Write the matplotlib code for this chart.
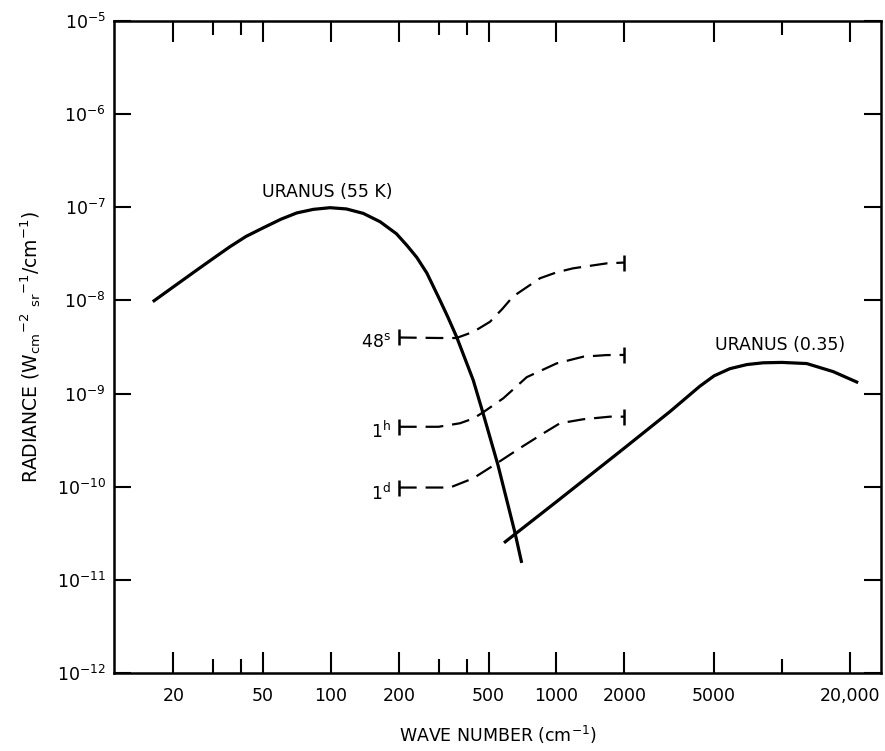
import matplotlib
matplotlib.use('Agg')
import matplotlib.pyplot as plt
from matplotlib.ticker import FixedLocator, FixedFormatter, NullFormatter, NullLocator

# ---------------- data ----------------
thermal_nu = [16.2, 20, 25.4, 30, 35.6, 42, 49.9, 60, 70.5, 83.5, 99, 117, 139,
              165, 195, 217, 240, 266, 304, 330, 360, 427, 472, 550, 655, 701]
thermal_rad = [9.7e-9, 1.40e-8, 2.12e-8, 2.82e-8, 3.77e-8, 4.87e-8, 6.0e-8,
               7.45e-8, 8.7e-8, 9.5e-8, 9.9e-8, 9.6e-8, 8.6e-8, 7.0e-8, 5.2e-8,
               3.9e-8, 2.9e-8, 1.97e-8, 1.01e-8, 6.6e-9, 4.1e-9, 1.40e-9,
               6.2e-10, 1.71e-10, 3.18e-11, 1.52e-11]

reflect_nu = [585, 1000, 2000, 3185, 4325, 5000, 5875, 7000, 8260, 10000, 12880,
              16880, 21780]
reflect_rad = [2.5e-11, 6.9e-11, 2.6e-10, 6.4e-10, 1.2e-9, 1.55e-9, 1.85e-9,
               2.05e-9, 2.14e-9, 2.16e-9, 2.1e-9, 1.72e-9, 1.31e-9]

s48_nu = [200, 300, 360, 428, 507, 575, 641, 845, 1000, 1183, 1670, 2000]
s48_rad = [4.0e-9, 3.95e-9, 3.95e-9, 4.6e-9, 5.9e-9, 8.1e-9, 1.1e-8, 1.73e-8,
           2.0e-8, 2.21e-8, 2.5e-8, 2.55e-8]

h1_nu = [200, 300, 373, 428, 473, 581, 738, 1002, 1315, 1670, 2000]
h1_rad = [4.4e-10, 4.4e-10, 4.8e-10, 5.4e-10, 6.3e-10, 8.9e-10, 1.5e-9, 2.11e-9,
          2.49e-9, 2.59e-9, 2.6e-9]

d1_nu = [200, 337, 427, 543, 689, 874, 1036, 1315, 1726, 2000]
d1_rad = [9.8e-11, 9.8e-11, 1.23e-10, 1.78e-10, 2.6e-10, 3.74e-10, 4.8e-10,
          5.3e-10, 5.65e-10, 5.65e-10]

x_major = [20, 50, 100, 200, 500, 1000, 2000, 5000, 20000]
x_major_labels = ['20', '50', '100', '200', '500', '1000', '2000', '5000', '20,000']
x_minor = [30, 40, 300, 400, 10000]
y_ticks = [1e-12, 1e-11, 1e-10, 1e-9, 1e-8, 1e-7, 1e-6, 1e-5]
y_labels = [r'$10^{-12}$', r'$10^{-11}$', r'$10^{-10}$', r'$10^{-9}$',
            r'$10^{-8}$', r'$10^{-7}$', r'$10^{-6}$', r'$10^{-5}$']

# ---------------- figure ----------------
plt.rcParams['font.family'] = ['DejaVu Sans']
fig = plt.figure(figsize=(8.85, 7.51), dpi=100)
ax = fig.add_axes([114 / 885, 78 / 751, 767 / 885, 652 / 751])
ax.set_xscale('log')
ax.set_yscale('log')
ax.set_xlim(10.9, 27500)
ax.set_ylim(1e-12, 1e-5)

solid_kw = dict(color='black', lw=2.3, solid_capstyle='butt', solid_joinstyle='round')
ax.plot(thermal_nu, thermal_rad, **solid_kw)
ax.plot(reflect_nu, reflect_rad, **solid_kw)

dash_kw = dict(color='black', lw=1.6, linestyle=(0, (8, 4)))
for nu, rad in [(s48_nu, s48_rad), (h1_nu, h1_rad), (d1_nu, d1_rad)]:
    ax.plot(nu, rad, **dash_kw)
    ax.plot([nu[0], nu[-1]], [rad[0], rad[-1]], linestyle='none', marker='|',
            markersize=11, mew=1.8, color='black')

# annotations
ax.text(96.5, 1.47e-7, 'URANUS (55 K)', ha='center', va='center', fontsize=12.5)
ax.text(9800, 3.3e-9, 'URANUS (0.35)', ha='center', va='center', fontsize=12.5)
ax.text(184, 3.18e-9, r'48$^{\mathrm{s}}$', ha='right', va='baseline', fontsize=12.5)
ax.text(184, 3.31e-10, r'1$^{\mathrm{h}}$', ha='right', va='baseline', fontsize=12.5)
ax.text(184, 7.2e-11, r'1$^{\mathrm{d}}$', ha='right', va='baseline', fontsize=12.5)

# axes styling
for sp in ax.spines.values():
    sp.set_linewidth(1.8)

ax.xaxis.set_major_locator(FixedLocator(x_major))
ax.xaxis.set_major_formatter(FixedFormatter(x_major_labels))
ax.xaxis.set_minor_locator(FixedLocator(x_minor))
ax.xaxis.set_minor_formatter(NullFormatter())
ax.yaxis.set_major_locator(FixedLocator(y_ticks))
ax.yaxis.set_major_formatter(FixedFormatter(y_labels))
ax.yaxis.set_minor_locator(NullLocator())

ax.tick_params(axis='x', which='major', direction='in', top=True, bottom=True,
               length=15, width=1.5, labelsize=12.5, pad=10)
ax.tick_params(axis='x', which='minor', direction='in', top=True, bottom=True,
               length=10, width=1.5)
ax.tick_params(axis='y', which='major', direction='in', left=True, right=True,
               length=12, width=1.5, labelsize=12.5, pad=6)

ax.set_xlabel(r'WAVE NUMBER (cm$^{-1}$)', fontsize=12.5, labelpad=14)
ax.set_ylabel(r'RADIANCE (W$_{\mathrm{cm}}$$^{-2}$ $_{\mathrm{sr}}$$^{-1}$/cm$^{-1}$)',
              fontsize=13.5, labelpad=10)

fig.savefig('out.png', dpi=100)
